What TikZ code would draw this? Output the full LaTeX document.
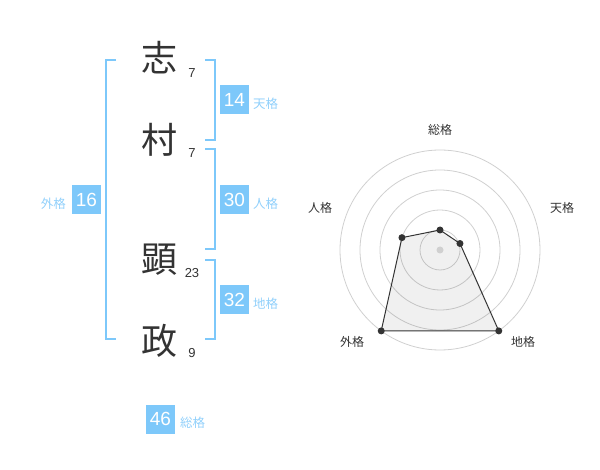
\documentclass[tikz,border=0pt]{standalone}
\usepackage{fontspec}
\setmainfont{Liberation Sans}
\newfontfamily\cjk{Noto Sans CJK JP}
\usetikzlibrary{positioning}
\definecolor{skyblue}{RGB}{125,200,250}
\definecolor{inkgrey}{RGB}{51,51,51}
\definecolor{ringgrey}{RGB}{208,208,208}

\begin{document}
\begin{tikzpicture}[x=1pt, y=1pt]
        \tikzstyle{kanji}=[font=\cjk\fontsize{36}{36}\selectfont, text=inkgrey, inner sep=0pt]
        \tikzstyle{strokes}=[font=\fontsize{13}{13}\selectfont, text=inkgrey, inner sep=0pt]
        \tikzstyle{score}=[fill=skyblue, text=white, minimum size=29pt, inner sep=0pt, font=\fontsize{19}{19}\selectfont]
        \tikzstyle{kaku}=[text=skyblue!85, font=\cjk\fontsize{12.5}{12.5}\selectfont, inner sep=0pt]
        \tikzstyle{bracket}=[draw=skyblue, line width=2pt]
        \tikzstyle{axis label}=[text=inkgrey, font=\cjk\fontsize{12}{12}\selectfont, inner sep=0pt]
        \tikzstyle{ring}=[draw=ringgrey, line width=0.8pt]
        \tikzstyle{dot}=[circle, fill=inkgrey, minimum size=7pt, inner sep=0pt]

        \useasboundingbox (0,0) rectangle (600,-470);

        % Draw the characters and their stroke counts
        \foreach \name / \kan / \y / \cnt / \sy in {1/志/58/7/73, 2/村/140/7/153, 3/顕/260/23/273, 4/政/341/9/353}
        {
            \node[kanji] (K-\name) at (159,-\y) {\kan};
            \node[strokes] (S-\name) at (192,-\sy) {\cnt};
        }

        % Draw the brackets
        \coordinate (L-top) at (116,-60);
        \coordinate (L-bot) at (116,-339);
        \draw[bracket] (L-top) -- ++(-10,0) |- (L-bot);
        \foreach \name / \top / \bot in {ten/60/140, jin/149/249, chi/260/339}
        {
            \coordinate (R-\name-top) at (205,-\top);
            \coordinate (R-\name-bot) at (205,-\bot);
            \draw[bracket] (R-\name-top) -- ++(10,0) |- (R-\name-bot);
        }

        % Draw the scores
        \node[score] (ten) at (234.5,-100) {14};
        \node[score] (jin) at (234.5,-200) {30};
        \node[score] (chi) at (234.5,-300) {32};
        \node[score] (gai) at (86.5,-200) {16};
        \node[score] (sou) at (160.5,-419) {46};

        \node[kaku, anchor=west] (ten-l) at (253,-103.5) {天格};
        \node[kaku, anchor=west] (jin-l) at (253,-203.5) {人格};
        \node[kaku, anchor=west] (chi-l) at (253,-303.5) {地格};
        \node[kaku, anchor=east] (gai-l) at (66,-203.5) {外格};
        \node[kaku, anchor=west] (sou-l) at (180,-422.5) {総格};

        % Draw the radar chart
        \coordinate (C) at (440,-250);
        \foreach \r in {20,40,...,100}
            \draw[ring] (C) circle (\r);

        \foreach \name / \ang / \r in {sou/90/20, ten/18/21, chi/-54/100, gai/-126/100, jin/162/40}
            \path (C) ++(\ang:\r) coordinate (D-\name);

        \draw[draw=inkgrey, line width=1pt, fill=black, fill opacity=0.06]
            (D-sou) -- (D-ten) -- (D-chi) -- (D-gai) -- (D-jin) -- cycle;

        \node[dot, fill=ringgrey] (centre) at (C) {};
        \foreach \name in {sou,ten,chi,gai,jin}
            \node[dot] (P-\name) at (D-\name) {};

        % Annotate the axes
        \node[axis label] (a-sou) at (440,-130) {総格};
        \node[axis label] (a-ten) at (562,-208) {天格};
        \node[axis label] (a-jin) at (320,-208) {人格};
        \node[axis label] (a-gai) at (352,-342) {外格};
        \node[axis label] (a-chi) at (523,-342) {地格};

\end{tikzpicture}
\end{document}
